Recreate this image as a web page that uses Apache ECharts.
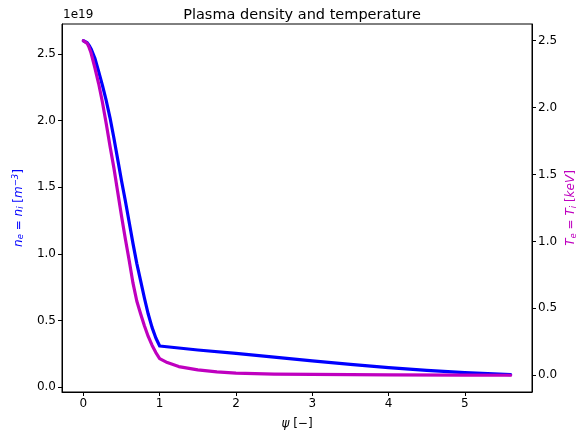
<!DOCTYPE html>
<html><head><meta charset="utf-8">
<script src="https://cdn.jsdelivr.net/npm/echarts@6/dist/echarts.min.js"></script>
<style>html,body{margin:0;padding:0;background:#fff}#c{width:576px;height:436px}</style>
</head><body><div id="c"></div>
<script>
// Density profile n_e = n_i [m^-3] vs psi
const psiN = [0,0.025,0.05,0.075,0.1,0.15,0.2,0.25,0.3,0.35,0.4,0.45,0.5,0.55,0.6,0.65,0.7,0.75,0.8,0.85,0.9,0.95,1.0,1.5,2.0,2.5,3.0,3.5,4.0,4.5,5.0,5.6];
const nVals = [2.60e19,2.597e19,2.585e19,2.565e19,2.54e19,2.47e19,2.37e19,2.265e19,2.15e19,2.02e19,1.87e19,1.71e19,1.55e19,1.40e19,1.24e19,1.08e19,0.93e19,0.80e19,0.67e19,0.55e19,0.45e19,0.37e19,0.31e19,0.28e19,0.255e19,0.226e19,0.198e19,0.172e19,0.148e19,0.127e19,0.110e19,0.095e19];
// Temperature profile T_e = T_i [keV] vs psi
const psiT = [0,0.025,0.05,0.075,0.1,0.15,0.2,0.25,0.3,0.35,0.4,0.45,0.5,0.55,0.6,0.65,0.7,0.75,0.8,0.85,0.9,0.95,1.0,1.1,1.25,1.5,1.75,2.0,2.5,3.0,4.0,5.0,5.6];
const tVals = [2.50,2.495,2.48,2.45,2.41,2.30,2.18,2.04,1.88,1.71,1.55,1.37,1.19,1.02,0.86,0.69,0.555,0.46,0.37,0.29,0.225,0.17,0.125,0.095,0.065,0.04,0.025,0.016,0.009,0.006,0.003,0.001,0.0];
// Tick labels
const xTicks = [0,1,2,3,4,5];
const nTicks = [0,0.5e19,1.0e19,1.5e19,2.0e19,2.5e19];
const tTicks = [0,0.5,1.0,1.5,2.0,2.5];

const FONT = 'DejaVu Sans';
const chart = echarts.init(document.getElementById('c'), null, {renderer:'canvas'});
const tickStyle = {show:true, inside:false, length:4, lineStyle:{color:'#000', width:1}};
const labelBase = {color:'#000', fontFamily:FONT, fontSize:12};
const richName = (col) => ({
  i:{fontStyle:'italic', color:col, fontFamily:FONT, fontSize:12},
  s:{fontStyle:'italic', color:col, fontFamily:FONT, fontSize:8.5, padding:[5,0,0,0]},
  p:{fontStyle:'italic', color:col, fontFamily:FONT, fontSize:8.5, padding:[0,0,6,0]},
  r:{color:col, fontFamily:FONT, fontSize:12}
});
chart.setOption({
  animation:false,
  backgroundColor:'#fff',
  title:{text:'Plasma density and temperature', left:297, top:3, textAlign:'center',
    textStyle:{fontFamily:FONT, fontSize:14.5, fontWeight:'normal', color:'#000'}},
  graphic:[{type:'text', left:63, top:9, style:{text:'1e19', font:'12px "DejaVu Sans"', fill:'#000'}}],
  grid:{left:62, right:44, top:24, bottom:44, containLabel:false, outerBoundsMode:'none',
    show:true, borderColor:'#000', borderWidth:1, backgroundColor:'transparent'},
  xAxis:{type:'value', min:-0.28, max:5.88,
    name:'{i|ψ}{r| [−]}', nameLocation:'middle', nameGap:26, nameMoveOverlap:false,
    nameTextStyle:{rich:richName('#000')},
    axisLine:{show:true, onZero:false, lineStyle:{color:'#000'}},
    axisTick:Object.assign({customValues:xTicks}, tickStyle),
    axisLabel:Object.assign({customValues:xTicks, margin:6, formatter:(v)=>String(Math.round(v))}, labelBase),
    splitLine:{show:false}},
  yAxis:[
    {type:'value', position:'left', min:-0.035e19, max:2.7255e19,
      name:'{i|n}{s|e}{r| = }{i|n}{s|i}{r| [}{i|m}{p|−3}{r|]}', nameLocation:'middle', nameGap:36, nameRotate:90, nameMoveOverlap:false,
      nameTextStyle:{rich:richName('#0000ff')},
      axisLine:{show:true, onZero:false, lineStyle:{color:'#000'}},
      axisTick:Object.assign({customValues:nTicks}, tickStyle),
      axisLabel:Object.assign({customValues:nTicks, margin:6, formatter:(v)=>(v/1e19).toFixed(1)}, labelBase),
      splitLine:{show:false}},
    {type:'value', position:'right', min:-0.125, max:2.625,
      name:'{i|T}{s|e}{r| = }{i|T}{s|i}{r| [}{i|keV}{r|]}', nameLocation:'middle', nameGap:32, nameRotate:90, nameMoveOverlap:false,
      nameTextStyle:{rich:richName('#bf00bf')},
      axisLine:{show:true, onZero:false, lineStyle:{color:'#000'}},
      axisTick:Object.assign({customValues:tTicks}, tickStyle),
      axisLabel:Object.assign({customValues:tTicks, margin:6, formatter:(v)=>v.toFixed(1)}, labelBase),
      splitLine:{show:false}}
  ],
  series:[
    {type:'line', yAxisIndex:0, data:psiN.map((p,i)=>[p,nVals[i]]), showSymbol:false, smooth:false,
      lineStyle:{color:'#0000ff', width:3.2, join:'round', cap:'round'}, z:3},
    {type:'line', yAxisIndex:1, data:psiT.map((p,i)=>[p,tVals[i]]), showSymbol:false, smooth:false,
      lineStyle:{color:'#bf00bf', width:3.2, join:'round', cap:'round'}, z:4}
  ]
});
</script></body></html>
